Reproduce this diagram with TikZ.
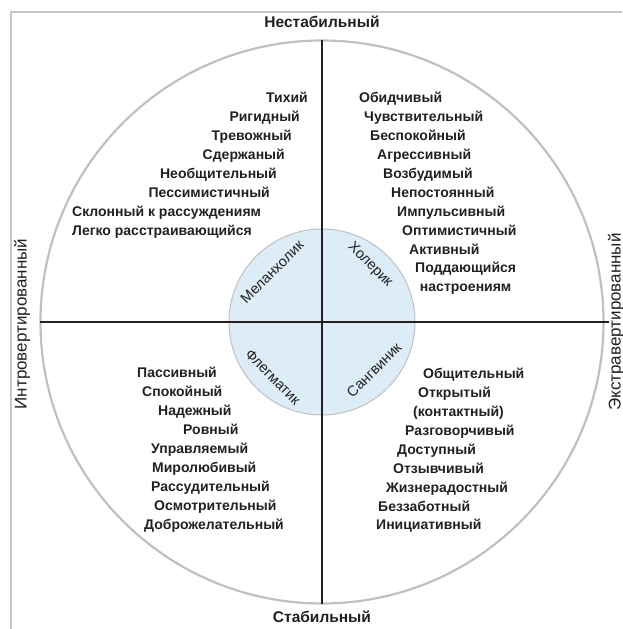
\documentclass[tikz,border=0pt]{standalone}
\usepackage{fontspec}
\setmainfont{Liberation Sans}
\usepackage{tikz}
\usepackage{xcolor}
\usetikzlibrary{positioning}
\definecolor{framegray}{HTML}{C6C6C6}
\definecolor{ringgray}{HTML}{C0C0C0}
\definecolor{coreblue}{HTML}{DCEDF8}
\definecolor{axisdark}{HTML}{231F20}
\newcommand{\traitfont}{\fontsize{14}{19}\selectfont\bfseries}

\begin{document}
\begin{tikzpicture}[
  x=1pt,y=1pt,
  trait/.style={font=\traitfont,inner sep=0pt,text=axisdark},
  lt/.style={trait,anchor=base east},
  rt/.style={trait,anchor=base west},
  poleaxis/.style={font=\fontsize{15.5}{18}\selectfont\bfseries,inner sep=0pt,text=axisdark},
  sideaxis/.style={font=\fontsize{17}{19}\selectfont,inner sep=0pt,text=axisdark,rotate=90},
  temper/.style={font=\fontsize{14.5}{16}\selectfont,inner sep=0pt,text=axisdark},
  axisline/.style={draw=axisdark,line width=1.1pt}
]
\useasboundingbox (-322,-307) rectangle (300,322);
% frame (top and left edges only)
\draw[framegray,line width=2pt] (300,310) -- (-311,310) -- (-311,-307);

% circles and axes
\draw[ringgray,line width=2.2pt] (0,0) circle[radius=281.5];
\draw[fill=coreblue,draw=ringgray,line width=1pt] (0,0) circle[radius=93];
\coordinate (top) at (90:281.5);
\coordinate (bot) at (-90:281.5);
\coordinate (lft) at (180:281.5);
\coordinate (rgt) at (0:287);
\draw[axisline] (top) -- (bot);
\draw[axisline] (lft) -- (rgt);

% axis labels
\node[poleaxis] (unstable) at (0,300) {Нестабильный};
\node[poleaxis] (stable) at (0,-295) {Стабильный};
\node[sideaxis] (intro) at (-300,-2) {Интровертированный};
\node[sideaxis] (extra) at (294,0) {Экстравертированный};

% temperaments
\node[temper,rotate=45] (melan) at (-50,50) {Меланхолик};
\node[temper,rotate=-45] (chol) at (48,57) {Холерик};
\node[temper,rotate=-45] (phleg) at (-49,-55) {Флегматик};
\node[temper,rotate=45] (sang) at (52,-48) {Сангвиник};

% melancholic traits
\node[lt] (m1) at (-14,219) {Тихий};
\node[lt] (m2) at (-22,200) {Ригидный};
\node[lt] (m3) at (-30,181) {Тревожный};
\node[lt] (m4) at (-37,162) {Сдержаный};
\node[lt] (m5) at (-45,143) {Необщительный};
\node[lt] (m6) at (-52,124) {Пессимистичный};
\node[rt] (m7) at (-250,105) {Склонный к рассуждениям};
\node[rt] (m8) at (-250,86) {Легко расстраивающийся};

% choleric traits
\node[rt] (c1) at (37,219) {Обидчивый};
\node[rt] (c2) at (42,200) {Чувствительный};
\node[rt] (c3) at (48,181) {Беспокойный};
\node[rt] (c4) at (55,162) {Агрессивный};
\node[rt] (c5) at (61,143) {Возбудимый};
\node[rt] (c6) at (69,124) {Непостоянный};
\node[rt] (c7) at (75,105) {Импульсивный};
\node[rt] (c8) at (80,86) {Оптимистичный};
\node[rt] (c9) at (87,67) {Активный};
\node[trait,anchor=west,align=center] (c10) at (93,44) {Поддающийся\\настроениям};

% phlegmatic traits
\node[rt] (p1) at (-185,-55) {Пассивный};
\node[rt] (p2) at (-180,-74) {Спокойный};
\node[rt] (p3) at (-164,-93) {Надежный};
\node[rt] (p4) at (-139,-112) {Ровный};
\node[rt] (p5) at (-171,-131) {Управляемый};
\node[rt] (p6) at (-170,-150) {Миролюбивый};
\node[rt] (p7) at (-171,-169) {Рассудительный};
\node[rt] (p8) at (-168,-188) {Осмотрительный};
\node[rt] (p9) at (-178,-207) {Доброжелательный};

% sanguine traits
\node[rt] (s1) at (101,-56) {Общительный};
\node[rt] (s2) at (96,-75) {Открытый};
\node[rt] (s3) at (91,-94) {(контактный)};
\node[rt] (s4) at (83,-113) {Разговорчивый};
\node[rt] (s5) at (75,-132) {Доступный};
\node[rt] (s6) at (71,-151) {Отзывчивый};
\node[rt] (s7) at (64,-170) {Жизнерадостный};
\node[rt] (s8) at (56,-189) {Беззаботный};
\node[rt] (s9) at (54,-207) {Инициативный};
\end{tikzpicture}
\end{document}
